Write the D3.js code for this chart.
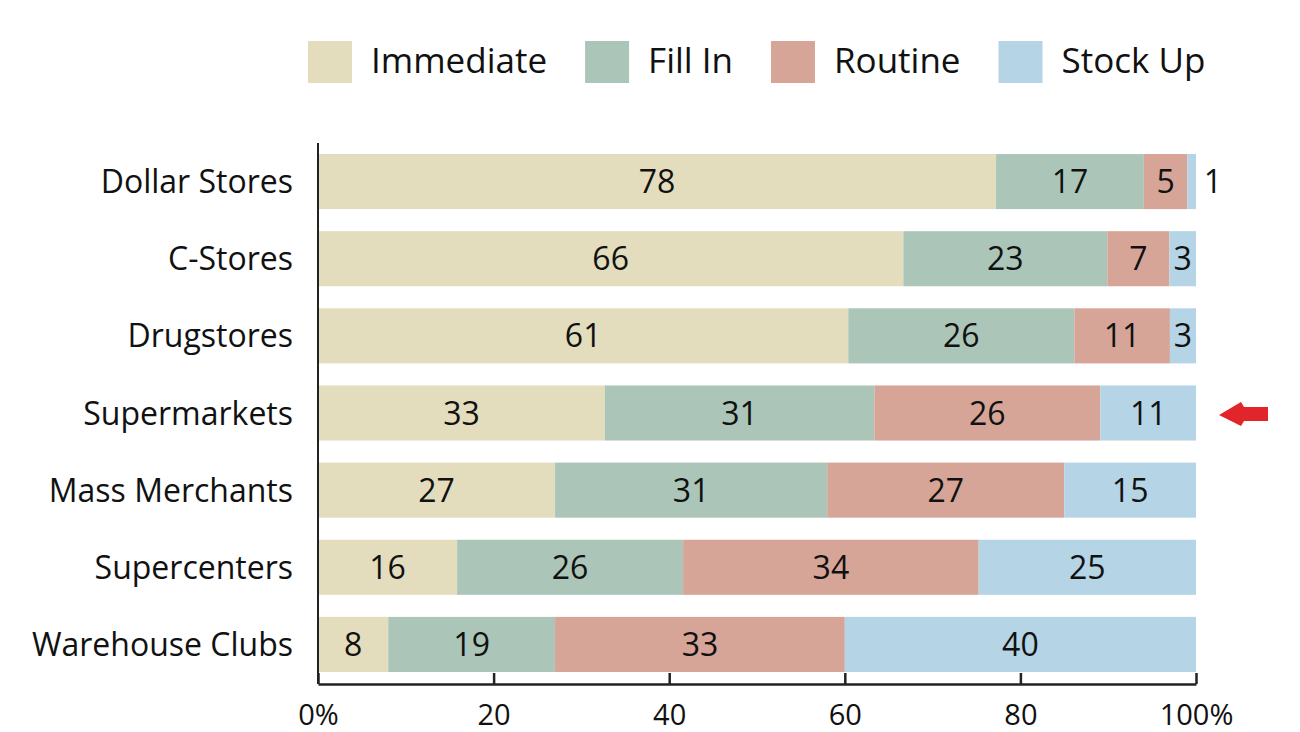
<!DOCTYPE html>
<html>
<head>
<meta charset="utf-8">
<script src="https://cdn.jsdelivr.net/npm/d3@7"></script>
<style>
  body { margin: 0; background: #fff; }
  svg { display: block; font-family: "Open Sans", "Noto Sans", sans-serif; }
</style>
</head>
<body>
<div class="vis"></div>
<script>
// data (rows do not always add up to 100, bars are scaled to full width)
const stores = ["Dollar Stores", "C-Stores", "Drugstores", "Supermarkets", "Mass Merchants", "Supercenters", "Warehouse Clubs"];
const seriesNames = ["Immediate", "Fill In", "Routine", "Stock Up"];
const immediate = [78, 66, 61, 33, 27, 16, 8];
const fillIn    = [17, 23, 26, 31, 31, 26, 19];
const routine   = [5, 7, 11, 26, 27, 34, 33];
const stockUp   = [1, 3, 3, 11, 15, 25, 40];
const xTicks = [0, 20, 40, 60, 80, 100];
const highlighted = "Supermarkets";

const colors = ["#e3ddbd", "#abc6b8", "#d7a597", "#b5d4e5"];

const rows = stores.map((s, i) => ({
	store: s,
	"Immediate": immediate[i],
	"Fill In": fillIn[i],
	"Routine": routine[i],
	"Stock Up": stockUp[i]
}));

const W = 1300, H = 732;
const margin = {top: 143, right: 104, bottom: 49, left: 318};
const width = W - margin.left - margin.right;
const height = H - margin.top - margin.bottom;

const svg = d3.select(".vis")
	.append("svg")
	.attr("width", W)
	.attr("height", H);

const g = svg.append("g")
	.attr("transform", "translate(" + margin.left + "," + margin.top + ")");

const stack = d3.stack()
	.keys(seriesNames)
	.offset(d3.stackOffsetExpand);
const layers = stack(rows);

const x = d3.scaleLinear().domain([0, 1]).range([0, width]);
const y = d3.scaleBand()
	.domain(stores)
	.range([0, height])
	.paddingInner(0.286)
	.paddingOuter(0.143);

const color = d3.scaleOrdinal().domain(seriesNames).range(colors);

// bars
const layer = g.selectAll("g.layer")
	.data(layers)
	.enter()
	.append("g")
	.attr("class", "layer")
	.attr("fill", d => color(d.key));

layer.selectAll("rect")
	.data(d => d)
	.enter()
	.append("rect")
	.attr("x", d => x(d[0]))
	.attr("y", d => y(d.data.store))
	.attr("width", d => x(d[1]) - x(d[0]))
	.attr("height", y.bandwidth());

// value labels
layers.forEach(L => {
	g.append("g")
		.selectAll("text")
		.data(L)
		.enter()
		.append("text")
		.attr("x", d => {
			let w = x(d[1]) - x(d[0]);
			return w < 20 ? x(d[1]) + 17 : (x(d[0]) + x(d[1])) / 2;
		})
		.attr("y", d => y(d.data.store) + y.bandwidth() / 2)
		.attr("dy", "0.36em")
		.attr("text-anchor", "middle")
		.attr("font-size", 32)
		.attr("fill", "#111")
		.text(d => d.data[L.key]);
});

// category labels
g.append("g")
	.selectAll("text")
	.data(stores)
	.enter()
	.append("text")
	.attr("x", -25)
	.attr("y", d => y(d) + y.bandwidth() / 2)
	.attr("dy", "0.36em")
	.attr("text-anchor", "end")
	.attr("font-size", 32)
	.attr("fill", "#111")
	.text(d => d);

// left axis line
g.append("line")
	.attr("x1", 0).attr("x2", 0)
	.attr("y1", 0).attr("y2", height + 1)
	.attr("stroke", "#222")
	.attr("stroke-width", 2);

// bottom axis, ticks pointing up
const xAxis = d3.axisBottom(x)
	.tickValues(xTicks.map(t => t / 100))
	.tickSizeInner(-11)
	.tickSizeOuter(0)
	.tickPadding(20)
	.tickFormat((d, i) => (i === 0 || i === xTicks.length - 1) ? xTicks[i] + "%" : xTicks[i]);

const ax = g.append("g")
	.attr("transform", "translate(0," + (height + 1) + ")")
	.call(xAxis);
ax.select(".domain").attr("stroke", "#222").attr("stroke-width", 2.5);
ax.selectAll(".tick line").attr("stroke", "#222").attr("stroke-width", 2.5);
ax.selectAll(".tick text")
	.attr("font-size", 29)
	.attr("font-family", "Open Sans, Noto Sans, sans-serif")
	.attr("fill", "#111");

// legend
const legend = svg.append("g").attr("transform", "translate(308,41)");
let lx = 0;
seriesNames.forEach((s, i) => {
	const item = legend.append("g").attr("transform", "translate(" + lx + ",0)");
	item.append("rect")
		.attr("width", 44)
		.attr("height", 42)
		.attr("fill", color(s));
	const t = item.append("text")
		.attr("x", 63)
		.attr("y", 32)
		.attr("font-size", 35)
		.attr("fill", "#111")
		.text(s);
	lx += 63 + t.node().getComputedTextLength() + 38;
});

// red arrow pointing at the highlighted row
const ay = margin.top + y(highlighted) + y.bandwidth() / 2 + 2;
const ax0 = margin.left + x(1) + 23;
svg.append("path")
	.attr("d", "M" + ax0 + "," + ay +
		" l22,-13 l3,5 l24,0 l0,14 l-24,0 l-3,5 z")
	.attr("fill", "#e2252b");
</script>
</body>
</html>
